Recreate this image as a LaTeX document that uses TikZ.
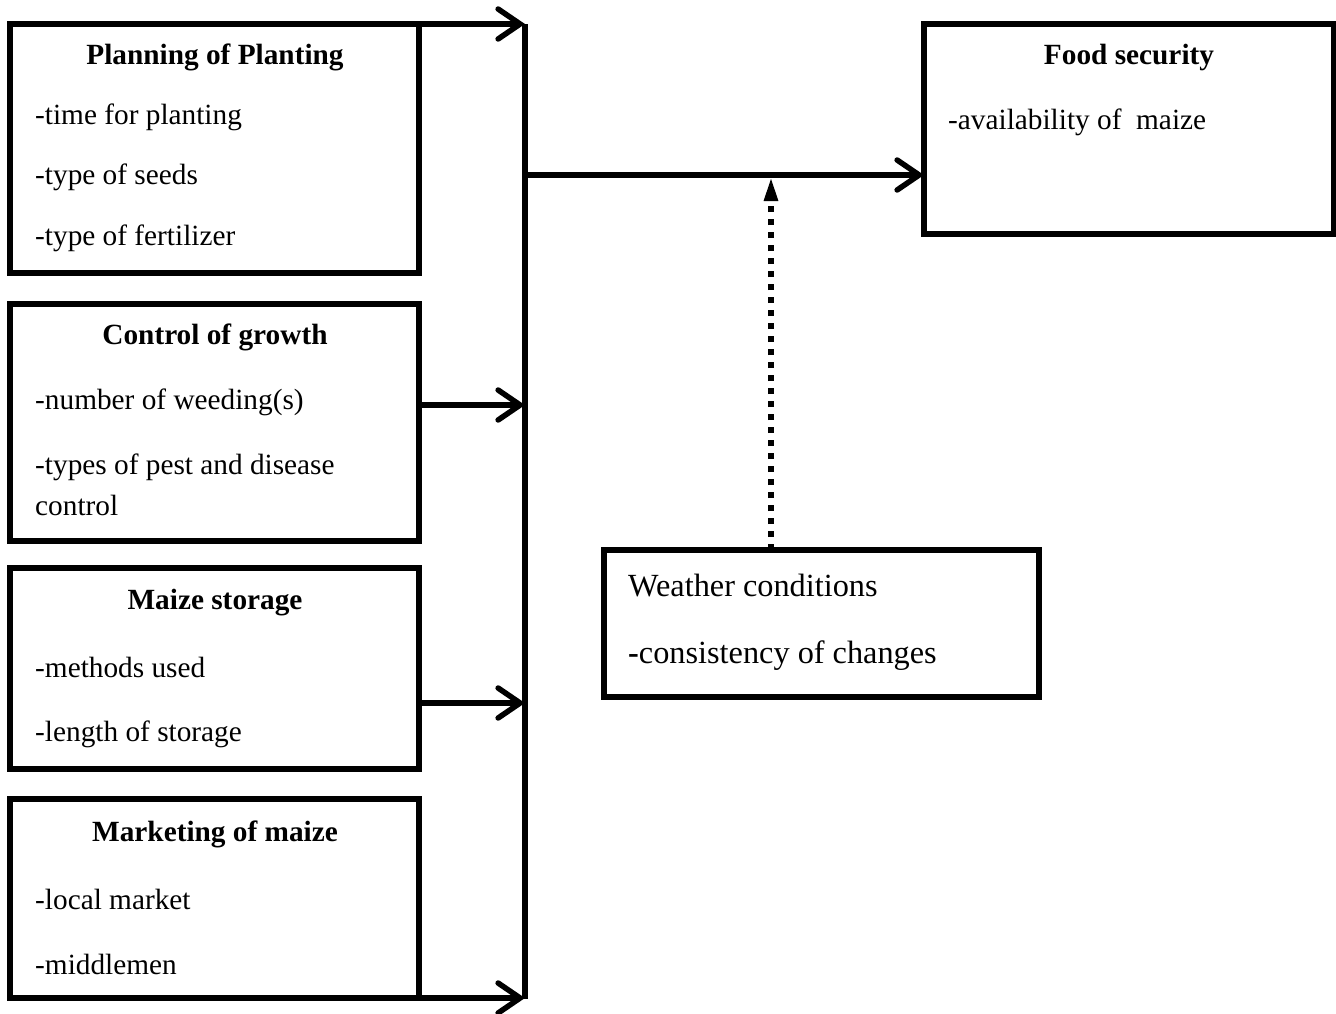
\documentclass[tikz,border=0pt]{standalone}
\usepackage{fontspec}
\setmainfont{Liberation Serif}
\usetikzlibrary{arrows.meta}
\begin{document}
\begin{tikzpicture}[x=1pt,y=-1pt,
  box/.style={draw,line width=5.5pt,rectangle,inner sep=0pt,outer sep=0pt},
  ttl/.style={font=\fontsize{29.3}{34}\selectfont\bfseries,inner sep=0pt},
  itm/.style={font=\fontsize{29.3}{34}\selectfont,anchor=west,inner sep=0pt},
  witm/.style={font=\fontsize{32.3}{38}\selectfont,anchor=west,inner sep=0pt},
  conn/.style={line width=5.5pt,-{Straight Barb[length=22pt,width=30pt,line cap=round]}},
  bar/.style={line width=5.5pt}]
\useasboundingbox (0,0) rectangle (1336,1013);
% boxes
\node[box,minimum width=409pt,minimum height=249pt] (b1) at (214.5,148.5) {};
\node[box,minimum width=409pt,minimum height=237pt] (b2) at (214.5,422.5) {};
\node[box,minimum width=409pt,minimum height=201pt] (b3) at (214.5,668.5) {};
\node[box,minimum width=409pt,minimum height=199pt] (b4) at (214.5,898.5) {};
\node[box,minimum width=410pt,minimum height=210pt] (fs) at (1129,129) {};
\node[box,minimum width=435pt,minimum height=147pt] (wc) at (821.5,623.5) {};
% texts
\node[ttl] (t1) at (215,57) {Planning of Planting};
\node[itm] (t1a) at (35,117) {-time for planting};
\node[itm] (t1b) at (35,177) {-type of seeds};
\node[itm] (t1c) at (35,238) {-type of fertilizer};
\node[ttl] (t2) at (215,337) {Control of growth};
\node[itm] (t2a) at (35,402) {-number of weeding(s)};
\node[itm] (t2b) at (35,467) {-types of pest and disease};
\node[itm] (t2c) at (35,505) {control};
\node[ttl] (t3) at (215,603) {Maize storage};
\node[itm] (t3a) at (35,667) {-methods used};
\node[itm] (t3b) at (35,734) {-length of storage};
\node[ttl] (t4) at (215,834) {Marketing of maize};
\node[itm] (t4a) at (35,899) {-local market};
\node[itm] (t4b) at (35,964) {-middlemen};
\node[ttl] (t5) at (1129,57) {Food security};
\node[itm] (t5a) at (948,122) {-availability of\ \ maize};
\node[witm] (t6) at (628,586) {Weather conditions};
\node[witm] (t6a) at (628,656) {\textbf{-}consistency of changes};
% bar and connectors
\coordinate (bartop) at (525,24);
\coordinate (barbot) at (525,999);
\coordinate (in2) at (525,405);
\coordinate (in3) at (525,703);
\coordinate (mainstart) at (527,175);
\coordinate (wtip) at (771,177);
\draw[bar] (bartop) -- (barbot);
\draw[conn] (b1.north east) -- (b1.north east -| bartop);
\draw[conn] (b2.east |- in2) -- (in2);
\draw[conn] (b3.east |- in3) -- (in3);
\draw[conn] (b4.south east) -- (b4.south east -| bartop);
\draw[conn] (mainstart) -- (fs.west |- mainstart);
\draw[line width=5.5pt,dash pattern=on 6.5pt off 6.5pt,-{Triangle[length=24pt,width=13pt]}] (wc.north -| wtip) -- (wtip);
\end{tikzpicture}
\end{document}
